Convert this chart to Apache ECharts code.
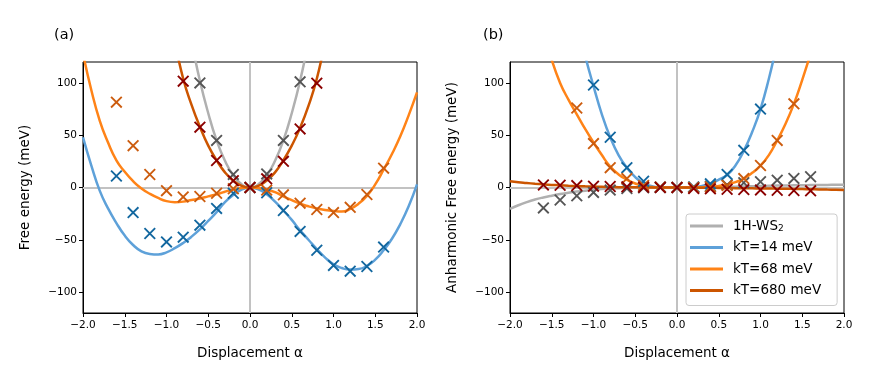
<!DOCTYPE html>
<html>
<head>
<meta charset="utf-8">
<script src="https://cdn.jsdelivr.net/npm/echarts@6/dist/echarts.min.js"></script>
<style>
  html, body { margin: 0; padding: 0; background: #fff; }
  #chart { width: 871px; height: 382px; }
</style>
</head>
<body>
<div id="chart"></div>
<script>
// displacement grid for the fitted curves
const alpha = [-2.0, -1.9, -1.8, -1.7, -1.6, -1.5, -1.4, -1.3, -1.2, -1.1, -1.0, -0.9, -0.8, -0.7, -0.6, -0.5, -0.4, -0.3, -0.2, -0.1,
  0.0, 0.1, 0.2, 0.3, 0.4, 0.5, 0.6, 0.7, 0.8, 0.9, 1.0, 1.1, 1.2, 1.3, 1.4, 1.5, 1.6, 1.7, 1.8, 1.9, 2.0]
// displacement of the computed points (crosses)
const alphaPts = [-1.6, -1.4, -1.2, -1.0, -0.8, -0.6, -0.4, -0.2, 0.0, 0.2, 0.4, 0.6, 0.8, 1.0, 1.2, 1.4, 1.6]

// (a) free energy curves (meV)
const grayA = [null, null, null, null, null, null, null, null, null, null, null, null, null, 140, 102, 71, 45, 25.5, 11.5, 3,
  0, 3, 11.5, 25.5, 45, 71, 102, 140, null, null, null, null, null, null, null, null, null, null, null, null, null]
const blueA = [48, 21, -3, -20, -34, -46, -55, -61, -63.5, -64, -62, -58, -53, -47, -40, -32, -23.5, -14, -7, -2,
  0, -1.7, -6.5, -13.5, -22, -31, -41, -50, -59, -67, -73.5, -77, -78.5, -78, -75, -69, -60, -49, -35, -18, 3]
const orangeA = [128, 93, 64, 43, 26, 15, 6, -1, -6, -10, -13, -14, -13.5, -12, -10.5, -8.5, -6.5, -4, -2, -0.5,
  0, -0.5, -2, -4.5, -8.5, -12, -15.5, -18, -20, -21.5, -22.5, -23, -20.5, -15.5, -8, 3, 17, 32, 49, 69, 91]
const darkA = [null, null, null, null, null, null, null, null, null, null, null, 140, 104, 79, 58, 40, 26, 14.5, 6.5, 1.6,
  0, 1.6, 6.7, 14.5, 26, 40, 57, 78, 104, 140, null, null, null, null, null, null, null, null, null, null, null]

// (a) computed points
const grayPtsA = [null, null, null, null, null, 100, 45, 12.5, 0, 13, 45, 101, null, null, null, null, null]
const bluePtsA = [11, -24, -44, -52, -47.5, -36, -20, -5.5, 0, -5, -22, -42, -60, -74.5, -80, -75.5, -57]
const orangePtsA = [81.6, 40, 12.4, -3, -9, -8.6, -5.5, -1.2, 0, -2.5, -7, -15, -21, -24, -19, -6.7, 18.5]
const darkPtsA = [null, null, null, null, 101.7, 57.7, 25.8, 6.5, 0, 8.3, 25, 56, 99.8, null, null, null, null]

// (b) anharmonic free energy curves (meV)
const grayB = [-20.5, -17, -14, -11.5, -9.5, -7.8, -6.3, -5, -3.9, -3, -2.2, -1.5, -1, -0.7, -0.4, -0.2, -0.1, 0, 0, 0,
  0, 0.05, 0.1, 0.2, 0.3, 0.45, 0.6, 0.8, 1.0, 1.2, 1.4, 1.6, 1.8, 1.95, 2.1, 2.2, 2.3, 2.4, 2.5, 2.55, 2.6]
const blueB = [null, null, null, null, null, null, null, null, 160, 126, 97, 70, 48, 31, 19, 10, 4, 1.2, 0.2, 0,
  0, 0, 0.3, 1.5, 4, 7.5, 12, 21, 35, 53, 75, 104, 138, null, null, null, null, null, null, null, null]
const orangeB = [null, null, null, null, 150, 122, 100, 84, 70, 56, 43, 31, 20, 12.5, 7.5, 3.8, 1.4, 0.4, 0, 0,
  0, 0, 0, 0.2, 0.7, 1.5, 3, 5.2, 8.5, 14, 21, 31, 45, 61, 80, 103, 128, null, null, null, null]
const darkB = [6, 5, 4.3, 3.6, 3, 2.5, 2.1, 1.7, 1.4, 1.1, 0.9, 0.7, 0.5, 0.35, 0.25, 0.15, 0.1, 0.05, 0, 0,
  0, 0, -0.1, -0.2, -0.3, -0.4, -0.5, -0.6, -0.7, -0.8, -0.9, -1.0, -1.1, -1.2, -1.35, -1.5, -1.65, -1.8, -2.0, -2.2, -2.5]

// (b) computed points
const grayPtsB = [-19.5, -12, -8, -4.7, -2.5, -1, -0.3, 0, 0, 0.3, 1.2, 2.5, 4.5, 5.5, 7, 8.7, 10.3]
const bluePtsB = [null, null, null, 98, 48, 19, 6, 0.5, 0, 0.5, 3.5, 12.5, 35.5, 75, null, null, null]
const orangePtsB = [null, null, 76, 42, 19, 8.5, 2, 0.5, 0, 0, 0.5, 2, 8.5, 21, 45, 80, null]
const darkPtsB = [2.5, 2.2, 1.8, 1.3, 1, 0.6, 0.3, 0, 0, -1, -1.3, -1.7, -2, -2.3, -2.6, -2.9, -3.2]

const names = ['1H-WS2', 'kT=14 meV', 'kT=68 meV', 'kT=680 meV']
const yTicks = [-100, -50, 0, 50, 100]

const lineColors = ['#b0b0b0', '#5ea1d9', '#ff8317', '#cc5500']
const markColors = ['#555555', '#12679f', '#cc5c0e', '#8b0000']
const font = 'DejaVu Sans'
const cross = 'path://M0,1.1L1.1,0L10,8.9L8.9,10ZM8.9,0L10,1.1L1.1,10L0,8.9Z'

function pairs(xs, ys) {
  return xs.map((x, i) => [x, ys[i]]).filter(p => p[1] !== null)
}
function minus(v, d) {
  const s = d ? Math.abs(v).toFixed(d) : String(Math.abs(v))
  return v < 0 ? '\u2212' + s : s
}

function axesFor(idx, yName) {
  const x = {
    type: 'value', gridIndex: idx, min: -2, max: 2, interval: 0.5,
    axisLine: { show: true, onZero: false, lineStyle: { color: '#000', width: 1 } },
    axisTick: { show: true, length: 4, lineStyle: { color: '#000' } },
    axisLabel: { color: '#000', fontSize: 10.5, fontFamily: font, margin: 7, showMinLabel: true, showMaxLabel: true,
      formatter: v => minus(v, 1) },
    splitLine: { show: false },
    name: 'Displacement \u03b1', nameLocation: 'middle', nameGap: 33,
    nameTextStyle: { color: '#000', fontSize: 13.5, fontFamily: font }
  }
  const y = {
    type: 'value', gridIndex: idx, min: -120, max: 120,
    axisLine: { show: true, onZero: false, lineStyle: { color: '#000', width: 1 } },
    axisTick: { show: true, length: 4, customValues: yTicks, lineStyle: { color: '#000' } },
    axisLabel: { color: '#000', fontSize: 10.5, fontFamily: font, margin: 6, customValues: yTicks,
      formatter: v => minus(v) },
    splitLine: { show: false },
    name: yName, nameLocation: 'middle', nameGap: 51,
    nameTextStyle: { color: '#000', fontSize: 13.5, fontFamily: font }
  }
  return [x, y]
}

function panelSeries(idx, curves, pts) {
  const out = []
  curves.forEach((c, k) => {
    const s = {
      name: names[k], type: 'line', xAxisIndex: idx, yAxisIndex: idx,
      data: pairs(alpha, c), smooth: true, showSymbol: false, symbol: 'none', z: 2,
      itemStyle: { color: lineColors[k] },
      lineStyle: { color: lineColors[k], width: 2.5 },
      silent: true
    }
    if (k === 0) {
      s.markLine = {
        silent: true, symbol: 'none', z: 1, label: { show: false },
        lineStyle: { color: '#c2c2c2', width: 2, type: 'solid' },
        data: [{ yAxis: 0 }, { xAxis: 0 }]
      }
    }
    out.push(s)
  })
  pts.forEach((p, k) => {
    out.push({
      name: 'points ' + names[k], type: 'scatter', xAxisIndex: idx, yAxisIndex: idx,
      data: pairs(alphaPts, p), symbol: cross, symbolSize: 12, z: 3, silent: true,
      itemStyle: { color: markColors[k], opacity: 1 }
    })
  })
  return out
}

const [xa, ya] = axesFor(0, 'Free energy (meV)')
const [xb, yb] = axesFor(1, 'Anharmonic Free energy (meV)')

const option = {
  animation: false,
  backgroundColor: '#fff',
  textStyle: { fontFamily: font },
  title: [
    { text: '(a)', left: 49, top: 23, textStyle: { fontSize: 14.5, fontWeight: 'normal', color: '#000', fontFamily: font } },
    { text: '(b)', left: 478, top: 23, textStyle: { fontSize: 14.5, fontWeight: 'normal', color: '#000', fontFamily: font } }
  ],
  grid: [
    { left: 83, top: 62, width: 334, height: 251, show: true, borderColor: '#000', borderWidth: 1 },
    { left: 510, top: 62, width: 334, height: 251, show: true, borderColor: '#000', borderWidth: 1 }
  ],
  xAxis: [xa, xb],
  yAxis: [ya, yb],
  legend: {
    data: names, orient: 'vertical', left: 686, top: 214,
    padding: [5, 16, 8, 4], itemGap: 7.5, itemWidth: 33, itemHeight: 3, icon: 'rect',
    backgroundColor: 'rgba(255,255,255,0.85)', borderColor: '#cccccc', borderWidth: 1, borderRadius: 3,
    formatter: n => n === '1H-WS2' ? '1H-WS{s|2}' : n,
    textStyle: {
      color: '#000', fontSize: 13.5, fontFamily: font, lineHeight: 14, padding: [0, 0, 0, 5],
      rich: { s: { fontSize: 9, fontFamily: font, verticalAlign: 'bottom', lineHeight: 14, padding: [5, 0, 0, 0] } }
    }
  },
  series: [
    ...panelSeries(0, [grayA, blueA, orangeA, darkA], [grayPtsA, bluePtsA, orangePtsA, darkPtsA]),
    ...panelSeries(1, [grayB, blueB, orangeB, darkB], [grayPtsB, bluePtsB, orangePtsB, darkPtsB])
  ]
}

const chart = echarts.init(document.getElementById('chart'))
chart.setOption(option)
</script>
</body>
</html>
